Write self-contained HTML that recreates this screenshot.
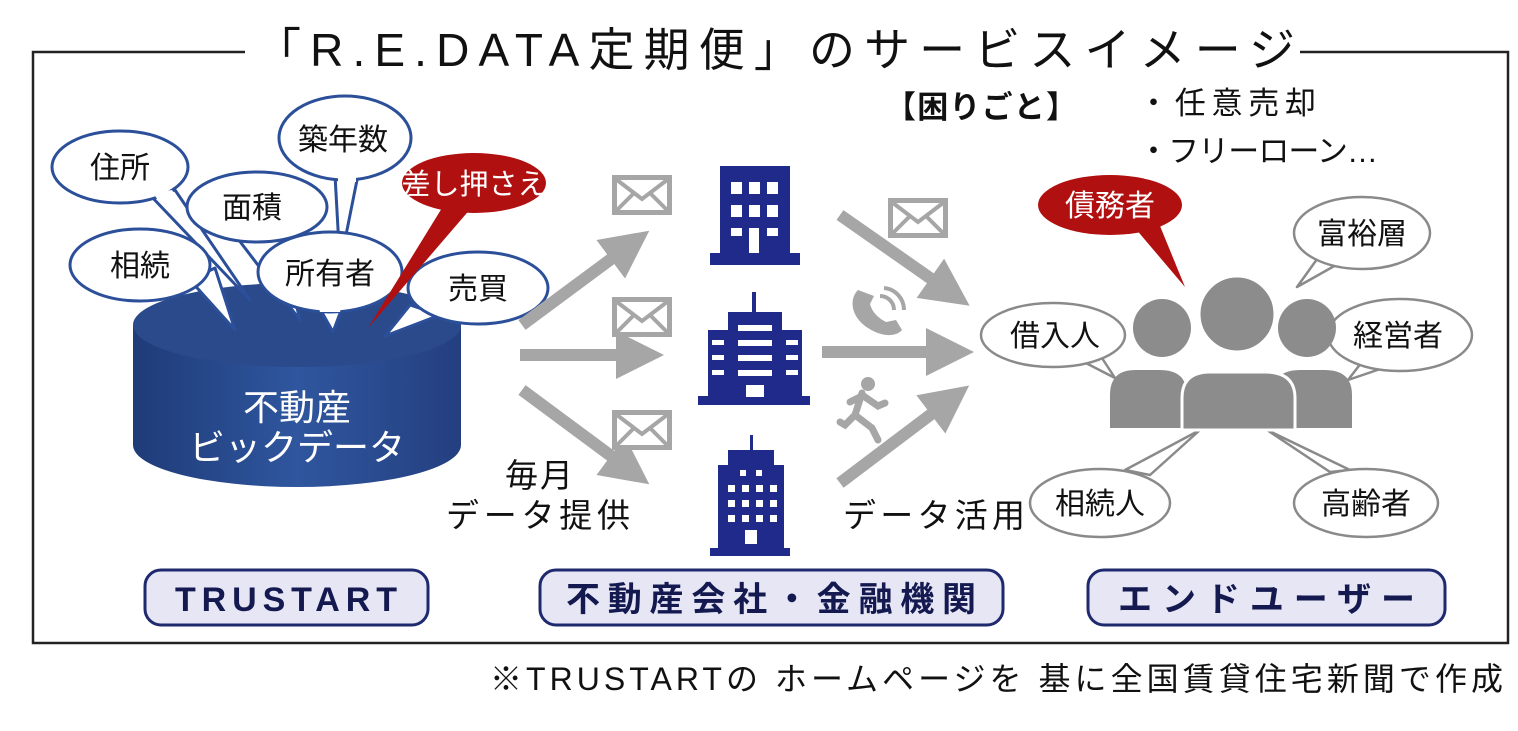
<!DOCTYPE html>
<html><head><meta charset="utf-8"><style>
html,body{margin:0;padding:0;background:#fff;}
svg{display:block;}
text{font-family:"Liberation Sans","Noto Sans CJK JP",sans-serif;}
</style></head><body>
<svg width="1518" height="731" viewBox="0 0 1518 731" xmlns="http://www.w3.org/2000/svg">
<defs>
<linearGradient id="cyl" x1="0" x2="1" y1="0" y2="0">
<stop offset="0" stop-color="#1f3b78"/><stop offset="0.5" stop-color="#2f569e"/><stop offset="1" stop-color="#243f80"/>
</linearGradient>
<marker id="ah" markerWidth="4" markerHeight="4" refX="2" refY="2" orient="auto" markerUnits="strokeWidth">
<path d="M0,0 L4,2 L0,4 z" fill="#a6a6a6"/></marker>
<g id="env"><rect x="0" y="0" width="60" height="40" fill="#a6a6a6"/><rect x="5" y="5" width="50" height="30" fill="#fff"/><path d="M5,5 L30,24 L55,5 M5,35 L22,18 M55,35 L38,18" stroke="#a6a6a6" stroke-width="4" fill="none"/></g>
</defs>

<!-- frame -->
<path d="M245,52 L33,52 L33,643 L1508,643 L1508,52 L1300,52" fill="none" stroke="#222" stroke-width="2.5"/>
<text x="255" y="66" font-size="46" fill="#111" textLength="1040" lengthAdjust="spacing">「R.E.DATA定期便」のサービスイメージ</text>

<!-- cylinder -->
<path d="M133,325 L133,445 A164,42 0 0 0 461,445 L461,325 Z" fill="url(#cyl)"/>
<ellipse cx="297" cy="325" rx="164" ry="42" fill="#2a4a8c"/>
<text x="297" y="420" font-size="36" fill="#fff" text-anchor="middle">不動産</text>
<text x="297" y="460" font-size="36" fill="#fff" text-anchor="middle">ビックデータ</text>

<!-- bubbles left -->
<g stroke="#2c4f9a" stroke-width="3" fill="#fff" stroke-linejoin="round">
<path d="M150,195 L250,300 L175,190 Z"/>
<ellipse cx="120" cy="167" rx="68" ry="36"/>
<path d="M190,280 L235,330 L215,268 Z"/>
<ellipse cx="140" cy="265" rx="70" ry="36"/>
<path d="M235,235 L300,320 L280,238 Z"/>
<ellipse cx="257" cy="207" rx="70" ry="35"/>
<path d="M335,175 L340,265 L358,175 Z"/>
<ellipse cx="345" cy="138" rx="66" ry="42"/>
<path d="M315,300 L333,332 L345,300 Z"/>
<ellipse cx="330" cy="272" rx="72" ry="40"/>
<path d="M410,305 L385,336 L440,315 Z"/>
<ellipse cx="478" cy="288" rx="70" ry="36"/>
</g>
<g fill="#fff">
<path d="M153,193 L172,190 L180,203 L160,203 Z"/>
<path d="M338,172 L356,172 L356,182 L338,182Z"/>
<path d="M318,305 L342,305 L340,312 L320,312Z"/>
</g>
<path d="M450,195 L368,328 L478,200 Z" fill="#b01010"/>
<ellipse cx="474" cy="183" rx="72" ry="30" fill="#b01010"/>
<g font-size="30" fill="#111" text-anchor="middle">
<text x="120" y="178">住所</text>
<text x="140" y="276">相続</text>
<text x="252" y="218">面積</text>
<text x="343" y="150">築年数</text>
<text x="330" y="284">所有者</text>
<text x="478" y="299">売買</text>
</g>
<text x="474" y="194" font-size="29" fill="#fff" text-anchor="middle">差し押さえ</text>

<!-- arrows -->
<g stroke="#a6a6a6" stroke-width="12" fill="none" marker-end="url(#ah)">
<line x1="522" y1="325" x2="630" y2="245"/>
<line x1="520" y1="355" x2="640" y2="355"/>
<line x1="522" y1="390" x2="630" y2="470"/>
<line x1="840" y1="215" x2="950" y2="292"/>
<line x1="822" y1="352" x2="950" y2="352"/>
<line x1="840" y1="483" x2="950" y2="400"/>
</g>
<use href="#env" x="612" y="175"/>
<use href="#env" x="612" y="297"/>
<use href="#env" x="612" y="410"/>
<use href="#env" x="888" y="198"/>

<!-- phone -->
<path d="M858,290 C848,300 852,318 868,328 C880,336 895,338 902,330 L896,320 L886,322 C878,318 872,312 870,304 L874,296 Z" fill="#a6a6a6"/>
<path d="M880,296 A14,14 0 0 1 894,310 M884,288 A22,22 0 0 1 904,310" stroke="#a6a6a6" stroke-width="4" fill="none"/>
<!-- runner -->
<g fill="#a6a6a6" stroke="#a6a6a6" stroke-linecap="round">
<circle cx="868" cy="384" r="7" stroke="none"/>
<path d="M862,393 L855,415 L872,428 L878,440 M855,415 L845,425 L840,422 M862,395 L878,406 L885,403 M862,396 L850,402" stroke-width="7" fill="none"/>
</g>

<!-- buildings -->
<g fill="#1f2a8a">
<rect x="720" y="166" width="70" height="90"/><rect x="710" y="253" width="90" height="12"/>
<rect x="708" y="330" width="24" height="68"/><rect x="778" y="330" width="24" height="68"/>
<rect x="728" y="312" width="54" height="86"/><rect x="752" y="292" width="4" height="22"/>
<rect x="698" y="396" width="112" height="9"/>
<rect x="718" y="465" width="66" height="88"/><rect x="728" y="450" width="46" height="18"/>
<rect x="750" y="435" width="3" height="18"/><rect x="710" y="548" width="80" height="8"/>
</g>
<g fill="#fff">
<rect x="731" y="182" width="11" height="12"/><rect x="749" y="182" width="11" height="12"/><rect x="767" y="182" width="11" height="12"/>
<rect x="731" y="205" width="11" height="12"/><rect x="749" y="205" width="11" height="12"/><rect x="767" y="205" width="11" height="12"/>
<rect x="731" y="228" width="11" height="8"/><rect x="767" y="228" width="11" height="8"/><rect x="749" y="228" width="10" height="25"/>
<rect x="738" y="325" width="34" height="6"/><rect x="738" y="340" width="34" height="6"/><rect x="738" y="355" width="34" height="6"/><rect x="738" y="370" width="34" height="6"/>
<rect x="746" y="385" width="18" height="12"/>
<rect x="712" y="340" width="12" height="5"/><rect x="712" y="355" width="12" height="5"/><rect x="712" y="370" width="12" height="5"/>
<rect x="786" y="340" width="12" height="5"/><rect x="786" y="355" width="12" height="5"/><rect x="786" y="370" width="12" height="5"/>
<rect x="740" y="470" width="6" height="6"/><rect x="756" y="470" width="6" height="6"/>
<rect x="728" y="485" width="7" height="7"/><rect x="742" y="485" width="7" height="7"/><rect x="756" y="485" width="7" height="7"/><rect x="770" y="485" width="7" height="7"/>
<rect x="728" y="500" width="7" height="7"/><rect x="742" y="500" width="7" height="7"/><rect x="756" y="500" width="7" height="7"/><rect x="770" y="500" width="7" height="7"/>
<rect x="728" y="515" width="7" height="7"/><rect x="742" y="515" width="7" height="7"/><rect x="756" y="515" width="7" height="7"/><rect x="770" y="515" width="7" height="7"/>
<rect x="745" y="530" width="12" height="14"/>
</g>

<g font-size="33" fill="#111">
<text x="505" y="487" textLength="68" lengthAdjust="spacing">毎月</text>
<text x="446" y="527" textLength="184" lengthAdjust="spacing">データ提供</text>
<text x="843" y="527" textLength="182" lengthAdjust="spacing">データ活用</text>
</g>

<!-- troubles -->
<text x="885" y="118" font-size="31" fill="#111" font-weight="bold" textLength="192" lengthAdjust="spacing">【困りごと】</text>
<text x="1138" y="114" font-size="31" fill="#111" textLength="178" lengthAdjust="spacing">・任意売却</text>
<text x="1138" y="162" font-size="31" fill="#111" textLength="240" lengthAdjust="spacing">・フリーローン…</text>

<!-- people bubbles -->
<g stroke="#8a8a8a" stroke-width="2.5" fill="#fff" stroke-linejoin="round">
<path d="M1080,360 L1115,378 L1100,355 Z"/>
<ellipse cx="1053" cy="335" rx="72" ry="32"/>
<path d="M1320,255 L1297,287 L1345,260 Z"/>
<ellipse cx="1362" cy="233" rx="68" ry="36"/>
<path d="M1365,358 L1348,380 L1392,365 Z"/>
<ellipse cx="1400" cy="335" rx="72" ry="36"/>
<path d="M1125,470 L1200,430 L1150,475 Z"/>
<ellipse cx="1100" cy="503" rx="70" ry="34"/>
<path d="M1330,472 L1267,430 L1350,470 Z"/>
<ellipse cx="1366" cy="503" rx="72" ry="34"/>
</g>
<path d="M1135,228 L1185,287 L1160,226 Z" fill="#b01010"/>
<ellipse cx="1110" cy="205" rx="72" ry="30" fill="#b01010"/>
<g font-size="30" fill="#111" text-anchor="middle">
<text x="1055" y="346">借入人</text>
<text x="1362" y="244">富裕層</text>
<text x="1398" y="346">経営者</text>
<text x="1100" y="514">相続人</text>
<text x="1366" y="514">高齢者</text>
</g>
<text x="1110" y="216" font-size="30" fill="#fff" text-anchor="middle">債務者</text>

<!-- people -->
<g fill="#8c8c8c">
<circle cx="1307" cy="328" r="29"/>
<path d="M1275,428 L1275,390 Q1275,370 1300,370 L1325,370 Q1352,370 1352,395 L1352,428 Z"/>
<circle cx="1162" cy="328" r="29"/>
<path d="M1110,428 L1110,395 Q1110,370 1135,370 L1160,370 Q1187,370 1187,395 L1187,428 Z"/>
<circle cx="1237" cy="314" r="38" stroke="#fff" stroke-width="3"/>
<path d="M1182,430 L1182,398 Q1182,372 1210,372 L1265,372 Q1295,372 1295,398 L1295,430 Z" stroke="#fff" stroke-width="3"/>
</g>

<!-- pills -->
<g fill="#e6e6f5" stroke="#1f2a6e" stroke-width="3">
<rect x="145" y="570" width="283" height="55" rx="16"/>
<rect x="540" y="570" width="463" height="55" rx="16"/>
<rect x="1088" y="570" width="357" height="55" rx="16"/>
</g>
<g font-size="34" fill="#141a50" font-weight="bold">
<text x="175" y="611" textLength="222" lengthAdjust="spacing">TRUSTART</text>
<text x="566" y="611" textLength="410" lengthAdjust="spacing">不動産会社・金融機関</text>
<text x="1118" y="611" textLength="297" lengthAdjust="spacing">エンドユーザー</text>
</g>

<text x="490" y="690" font-size="32" fill="#111" textLength="1013" lengthAdjust="spacing">※TRUSTARTの ホームページを 基に全国賃貸住宅新聞で作成</text>
</svg>
</body></html>
